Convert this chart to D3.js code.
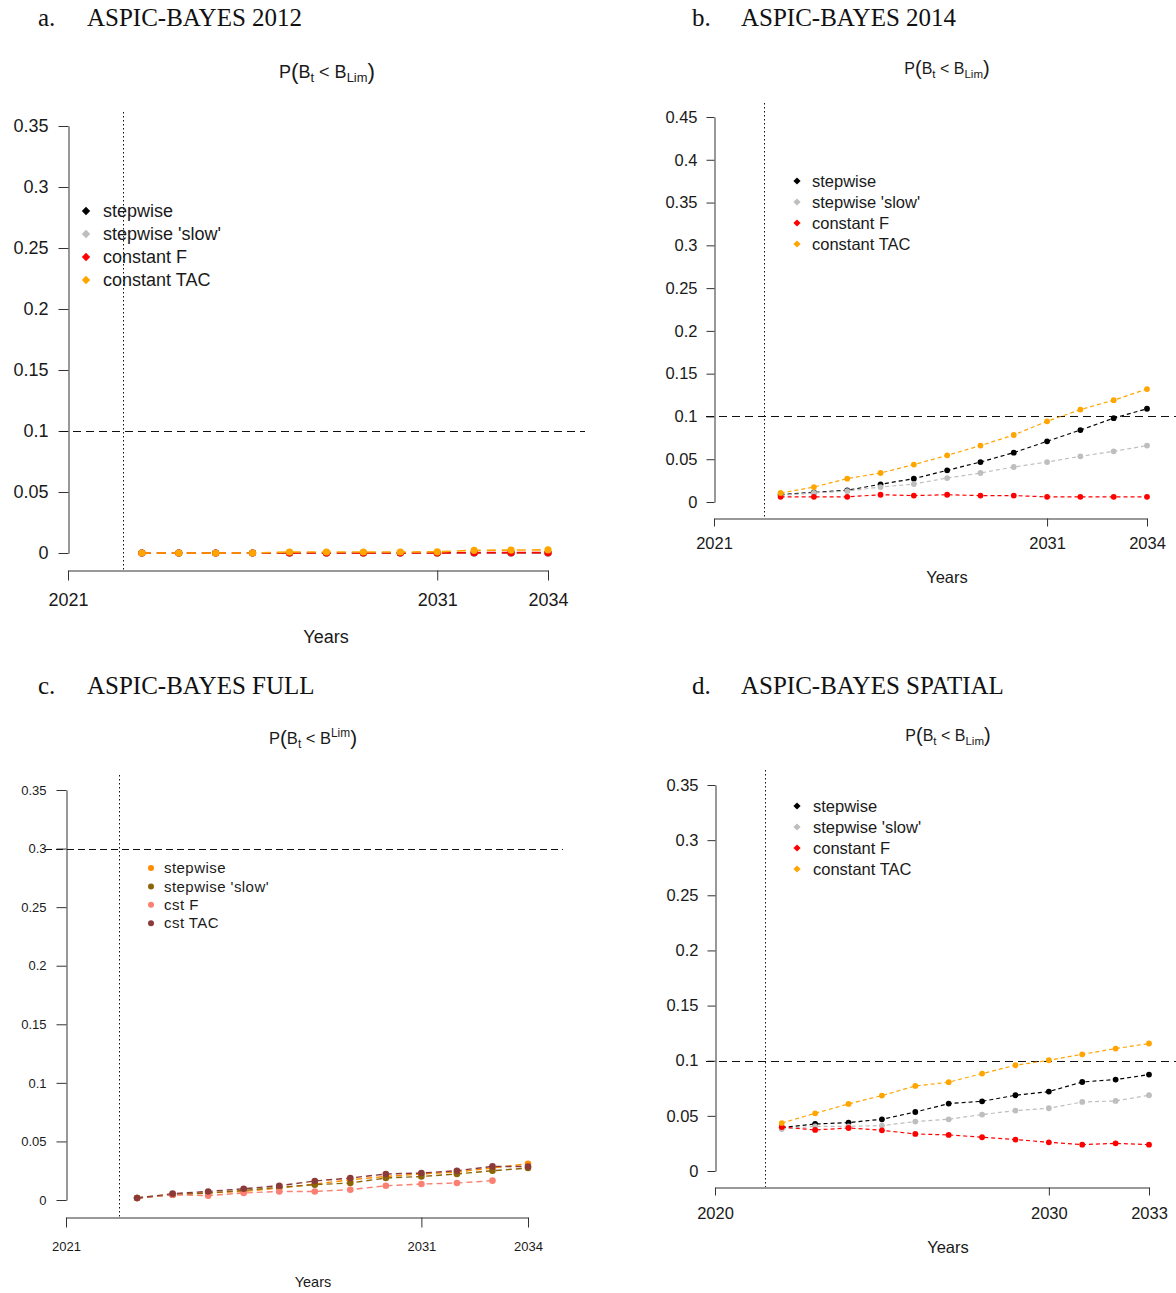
<!DOCTYPE html>
<html>
<head>
<meta charset="utf-8">
<script src="https://cdn.jsdelivr.net/npm/d3@7.9.0/dist/d3.min.js"></script>
<style>
  body { margin: 0; background: #fff; }
  svg { display: block; }
  .axis text { fill: #1a1a1a; font-family: "Liberation Sans", Arial, sans-serif; }
  .axis path, .axis line { stroke: #333; stroke-width: 1; }
</style>
</head>
<body>
<div id="chart"></div>
<script>
// ---- data ----
const yearsA = [2023, 2024, 2025, 2026, 2027, 2028, 2029, 2030, 2031, 2032, 2033, 2034];
const aStepwise = [0, 0, 0, 0, 0, 0, 0, 0, 0, 0, 0, 0];
const aSlow = [0, 0, 0, 0, 0, 0, 0, 0, 0, 0, 0, 0];
const aConstF = [0, 0, 0, 0, 0, 0, 0, 0, 0, 0.0003, 0.0003, 0.0003];
const aConstTAC = [0, 0, 0, 0, 0.0008, 0.0008, 0.0008, 0.0008, 0.001, 0.0022, 0.0024, 0.0026];

const yearsB = [2023, 2024, 2025, 2026, 2027, 2028, 2029, 2030, 2031, 2032, 2033, 2034];
const bStepwise = [0.0086, 0.0113, 0.0137, 0.0207, 0.0273, 0.037, 0.0467, 0.0577, 0.0709, 0.0841, 0.098, 0.109];
const bSlow = [0.0078, 0.0105, 0.0128, 0.0175, 0.021, 0.028, 0.0339, 0.0409, 0.0467, 0.0534, 0.0592, 0.0659];
const bConstF = [0.006, 0.006, 0.006, 0.0085, 0.0075, 0.0085, 0.0075, 0.0075, 0.006, 0.006, 0.006, 0.006];
const bConstTAC = [0.0105, 0.0175, 0.0273, 0.0339, 0.0437, 0.0545, 0.0659, 0.0783, 0.0943, 0.108, 0.119, 0.132];

const yearsC = [2023, 2024, 2025, 2026, 2027, 2028, 2029, 2030, 2031, 2032, 2033, 2034];
const yearsCstF = [2023, 2024, 2025, 2026, 2027, 2028, 2029, 2030, 2031, 2032, 2033];
const cStepwise = [0.0017, 0.0045, 0.006, 0.0073, 0.0102, 0.0136, 0.0173, 0.0201, 0.0222, 0.0239, 0.0273, 0.031];
const cSlow = [0.0017, 0.0045, 0.006, 0.0082, 0.0108, 0.0131, 0.0145, 0.0188, 0.0201, 0.0222, 0.025, 0.0273];
const cCstF = [0.0017, 0.0045, 0.0037, 0.006, 0.0073, 0.0073, 0.0088, 0.0122, 0.0136, 0.0145, 0.0165];
const cCstTAC = [0.0017, 0.0054, 0.0073, 0.0096, 0.0122, 0.0162, 0.0188, 0.0222, 0.023, 0.025, 0.0287, 0.0285];

const yearsD = [2022, 2023, 2024, 2025, 2026, 2027, 2028, 2029, 2030, 2031, 2032, 2033];
const dStepwise = [0.0394, 0.0426, 0.0439, 0.0469, 0.0535, 0.0611, 0.0632, 0.0687, 0.072, 0.0807, 0.0829, 0.0874];
const dSlow = [0.0381, 0.0405, 0.0405, 0.0412, 0.0448, 0.0469, 0.0512, 0.0548, 0.0569, 0.0626, 0.0635, 0.0687];
const dConstF = [0.0399, 0.0372, 0.039, 0.0369, 0.0336, 0.0327, 0.0306, 0.0285, 0.026, 0.0239, 0.0251, 0.0239];
const dConstTAC = [0.0435, 0.0523, 0.0608, 0.0684, 0.0771, 0.0805, 0.0883, 0.0959, 0.1004, 0.1058, 0.111, 0.1156];

const namesMain = ['stepwise', "stepwise 'slow'", 'constant F', 'constant TAC'];
const namesFull = ['stepwise', "stepwise 'slow'", 'cst F', 'cst TAC'];
const colorsMain = ['#000000', '#bebebe', '#ff0000', '#ffa500'];
const colorsFull = ['#ff8c00', '#8b6508', '#fa8072', '#8b3a3a'];

const yTicks035 = [0, 0.05, 0.1, 0.15, 0.2, 0.25, 0.3, 0.35];
const yTicks045 = [0, 0.05, 0.1, 0.15, 0.2, 0.25, 0.3, 0.35, 0.4, 0.45];
const xTicks2021 = [2021, 2031, 2034];
const xTicks2020 = [2020, 2030, 2033];

// ---- drawing ----
const W = 1176, H = 1293;
const svg = d3.select('#chart').append('svg').attr('width', W).attr('height', H);
const fmt = (d) => String(+d.toFixed(2));
const sans = '"Liberation Sans", Arial, sans-serif';

function seriesOf(years, list, names, colors) {
  return list.map((vals, i) => ({
    name: names[i],
    color: colors[i],
    points: vals.map((v, j) => ({ year: Array.isArray(years[0]) ? years[i][j] : years[j], value: v })),
  }));
}

function drawPanel(p) {
  const g = svg.append('g');
  const x = d3.scaleLinear().domain(p.xDomain).range(p.xRange);
  const y = d3.scaleLinear().domain([0, d3.max(p.yTicks)]).range(p.yRange);

  // titles
  const t = g.append('text').attr('y', p.titleY)
    .attr('font-family', '"Liberation Serif", "Times New Roman", serif').attr('font-size', 25).attr('fill', '#111');
  t.append('tspan').attr('x', p.titleX).text(p.letter);
  t.append('tspan').attr('x', p.titleX + 49).text(p.title);

  const sub = g.append('text').attr('x', p.subX).attr('y', p.subY).attr('text-anchor', 'middle')
    .attr('font-family', sans).attr('font-size', p.subSize).attr('fill', '#1a1a1a');
  sub.append('tspan').text('P');
  sub.append('tspan').attr('font-size', p.subSize * 1.25).attr('dy', 1).text('(');
  sub.append('tspan').attr('dy', -1).text('B');
  sub.append('tspan').attr('font-size', p.subSize * 0.72).attr('dy', 4).text('t');
  sub.append('tspan').attr('dy', -4).text(' < B');
  sub.append('tspan').attr('font-size', p.subSize * 0.72).attr('dy', p.sup ? -7 : 4).text('Lim');
  sub.append('tspan').attr('font-size', p.subSize * 1.25).attr('dy', p.sup ? 8 : -3).text(')');

  // axes
  const ya = g.append('g').attr('class', 'axis').attr('transform', `translate(${p.xRange[0] + 0.5},0)`)
    .call(d3.axisLeft(y).tickValues(p.yTicks).tickFormat(fmt).tickSize(p.tick).tickSizeOuter(0).tickPadding(p.yPad));
  ya.selectAll('text').attr('font-size', p.font);
  const xa = g.append('g').attr('class', 'axis').attr('transform', `translate(0,${p.xAxisY + 0.5})`)
    .call(d3.axisBottom(x).tickValues(p.xTicks).tickFormat(d3.format('d')).tickSize(p.tick).tickSizeOuter(0).tickPadding(p.xPad));
  xa.selectAll('text').attr('font-size', p.font);
  g.selectAll('.axis').attr('font-family', sans);
  g.selectAll('.axis .domain').attr('fill', 'none');

  g.append('text').attr('x', p.labX).attr('y', p.labY).attr('text-anchor', 'middle')
    .attr('font-family', sans).attr('font-size', p.labSize).attr('fill', '#1a1a1a').text('Years');

  // reference lines
  const vx = Math.round(x(p.vLine)) + 0.5;
  g.append('line').attr('x1', vx).attr('x2', vx).attr('y1', p.vTop).attr('y2', p.xAxisY)
    .attr('stroke', '#111').attr('stroke-width', 1).attr('stroke-dasharray', '1.5,2.5');
  const hy = Math.round(y(p.hLine)) + 0.5;
  g.append('line').attr('x1', p.hFrom).attr('x2', p.hTo).attr('y1', hy).attr('y2', hy)
    .attr('stroke', '#111').attr('stroke-width', 1).attr('stroke-dasharray', p.hDash);

  // series
  const line = d3.line().x((d) => x(d.year)).y((d) => y(d.value));
  p.series.forEach((s) => {
    g.append('path').datum(s.points).attr('d', line).attr('fill', 'none')
      .attr('stroke', s.color).attr('stroke-width', p.lw).attr('stroke-dasharray', p.dash);
    g.append('g').selectAll('circle').data(s.points).join('circle')
      .attr('cx', (d) => x(d.year)).attr('cy', (d) => y(d.value)).attr('r', p.r).attr('fill', s.color);
  });

  // legend
  const lg = g.append('g').attr('font-family', sans).attr('font-size', p.legSize).attr('fill', '#1a1a1a')
    .attr('letter-spacing', p.legSpacing || 0);
  p.series.forEach((s, i) => {
    const cy = p.legY + i * p.legStep;
    if (p.legCircle) {
      lg.append('circle').attr('cx', p.legX).attr('cy', cy).attr('r', 3).attr('fill', s.color);
    } else {
      const r = p.legDiamond;
      lg.append('path').attr('d', `M${p.legX},${cy - r}L${p.legX + r},${cy}L${p.legX},${cy + r}L${p.legX - r},${cy}Z`)
        .attr('fill', s.color);
    }
    lg.append('text').attr('x', p.legX + p.legGap).attr('y', cy).attr('dy', '0.35em').text(s.name);
  });
}

drawPanel({
  letter: 'a.', title: 'ASPIC-BAYES 2012', titleX: 38, titleY: 26,
  subX: 327, subY: 78, subSize: 18, sup: false,
  xDomain: [2021, 2034], xRange: [68, 548], yRange: [553, 126], yTicks: yTicks035, xTicks: xTicks2021,
  xAxisY: 570, tick: 10, yPad: 10, xPad: 13, font: 18,
  labX: 326, labY: 643, labSize: 18,
  vLine: 2022.5, vTop: 112, hLine: 0.1, hFrom: 60, hTo: 585, hDash: '8,5',
  lw: 1.6, dash: '9,6', r: 3.6,
  legX: 86, legY: 211, legStep: 23, legGap: 17, legSize: 18, legDiamond: 4.2,
  series: seriesOf(yearsA, [aStepwise, aSlow, aConstF, aConstTAC], namesMain, colorsMain),
});

drawPanel({
  letter: 'b.', title: 'ASPIC-BAYES 2014', titleX: 692, titleY: 26,
  subX: 947, subY: 74, subSize: 16, sup: false,
  xDomain: [2021, 2034], xRange: [714, 1147], yRange: [502, 117], yTicks: yTicks045, xTicks: xTicks2021,
  xAxisY: 518, tick: 8, yPad: 9, xPad: 11, font: 16.5,
  labX: 947, labY: 583, labSize: 16.5,
  vLine: 2022.5, vTop: 103, hLine: 0.1, hFrom: 706, hTo: 1176, hDash: '8,5',
  lw: 1.2, dash: '4,3', r: 2.9,
  legX: 797, legY: 181, legStep: 21, legGap: 15, legSize: 16.5, legDiamond: 3.6,
  series: seriesOf(yearsB, [bStepwise, bSlow, bConstF, bConstTAC], namesMain, colorsMain),
});

drawPanel({
  letter: 'c.', title: 'ASPIC-BAYES FULL', titleX: 38, titleY: 694,
  subX: 313, subY: 744, subSize: 16.5, sup: true,
  xDomain: [2021, 2034], xRange: [66, 528], yRange: [1200, 790], yTicks: yTicks035, xTicks: xTicks2021,
  xAxisY: 1217, tick: 10, yPad: 10, xPad: 14, font: 13,
  labX: 313, labY: 1287, labSize: 14.5,
  vLine: 2022.5, vTop: 775, hLine: 0.3, hFrom: 45, hTo: 563, hDash: '7,4',
  lw: 1.4, dash: '6,4', r: 3.3,
  legX: 151, legY: 868, legStep: 18.4, legGap: 13, legSize: 15, legSpacing: 0.45, legCircle: true,
  series: seriesOf([yearsC, yearsC, yearsCstF, yearsC], [cStepwise, cSlow, cCstF, cCstTAC], namesFull, colorsFull),
});

drawPanel({
  letter: 'd.', title: 'ASPIC-BAYES SPATIAL', titleX: 692, titleY: 694,
  subX: 948, subY: 741, subSize: 16, sup: false,
  xDomain: [2020, 2033], xRange: [715, 1149], yRange: [1171, 785], yTicks: yTicks035, xTicks: xTicks2020,
  xAxisY: 1187, tick: 8, yPad: 9, xPad: 12, font: 16.5,
  labX: 948, labY: 1253, labSize: 16.5,
  vLine: 2021.5, vTop: 770, hLine: 0.1, hFrom: 706, hTo: 1176, hDash: '8,5',
  lw: 1.2, dash: '4,3', r: 2.9,
  legX: 797, legY: 806, legStep: 21, legGap: 16, legSize: 16.5, legDiamond: 3.6,
  series: seriesOf(yearsD, [dStepwise, dSlow, dConstF, dConstTAC], namesMain, colorsMain),
});
</script>
</body>
</html>
